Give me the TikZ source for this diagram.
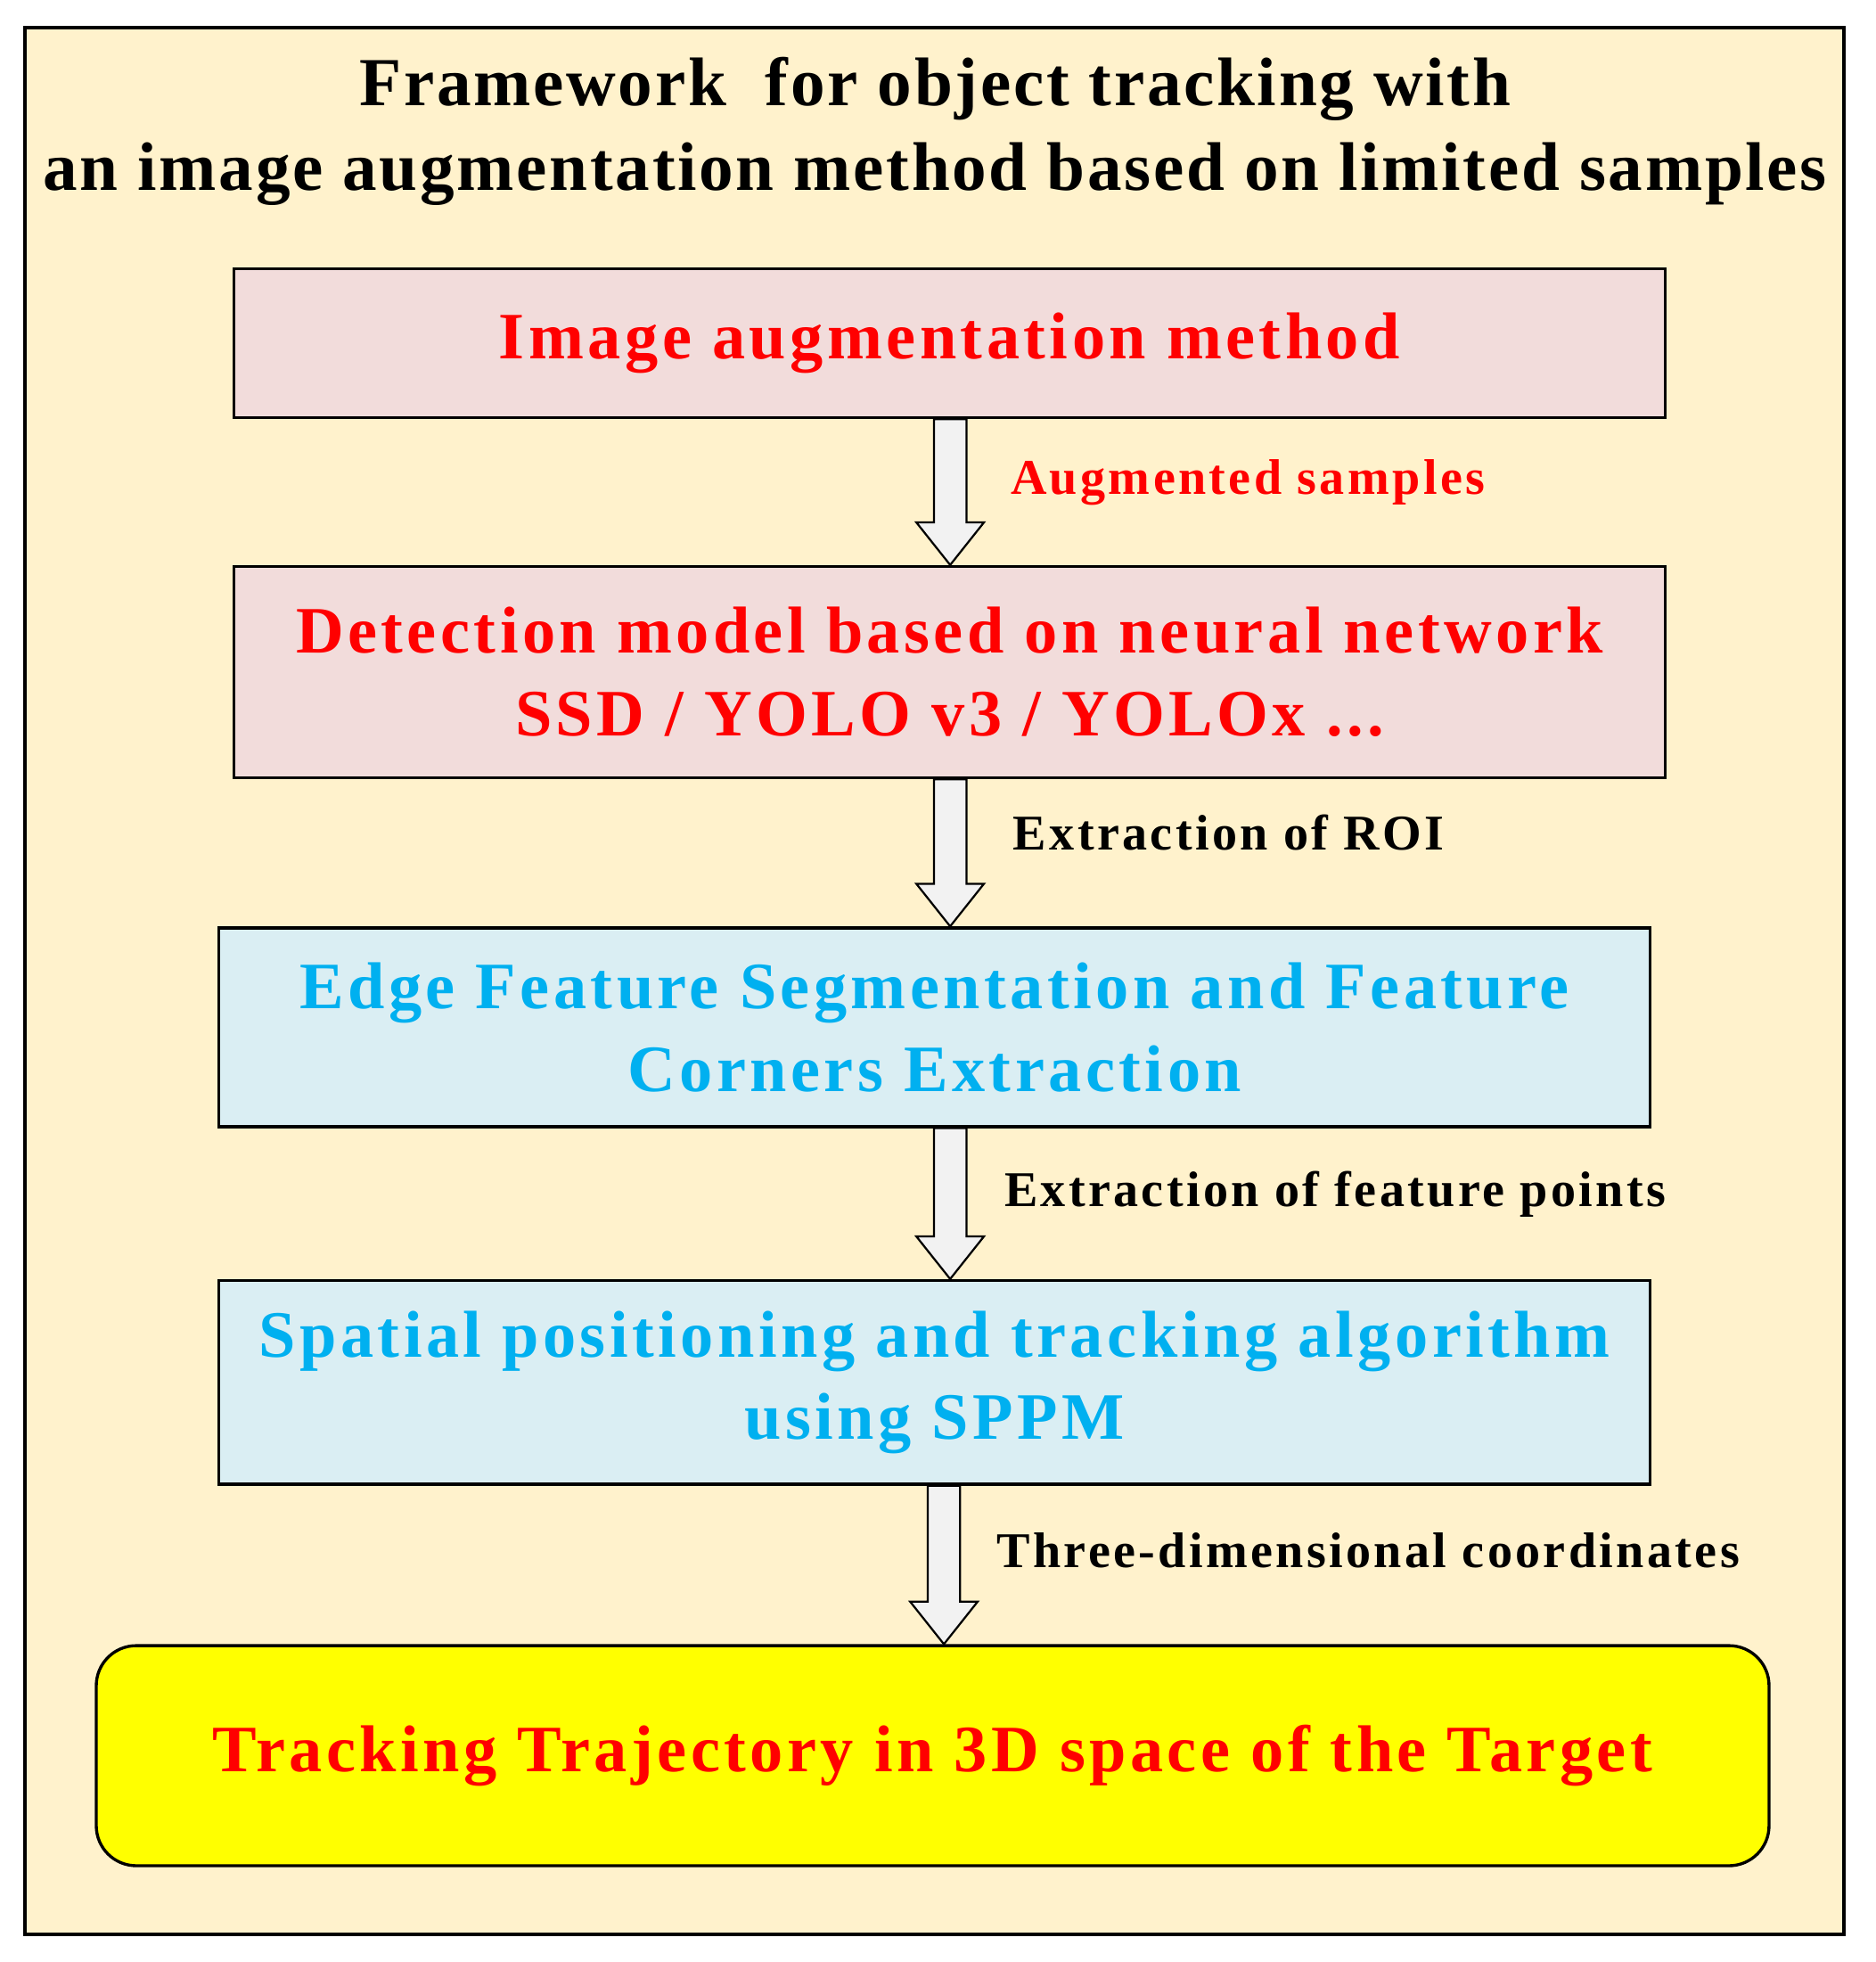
\documentclass[tikz,border=0pt]{standalone}
\usepackage{fontspec}
\setmainfont{Liberation Serif}
\newfontfamily\spacedA[LetterSpace=3.5]{Liberation Serif}
\newfontfamily\spacedB[LetterSpace=6]{Liberation Serif}
\usetikzlibrary{calc}
\definecolor{cream}{HTML}{FFF2CC}
\definecolor{pinkbox}{HTML}{F2DCDB}
\definecolor{bluebox}{HTML}{DAEEF3}
\definecolor{bluetxt}{HTML}{00B0F0}
\definecolor{redtxt}{HTML}{FF0000}
\definecolor{yel}{HTML}{FFFF00}
\definecolor{arrowfill}{HTML}{F2F2F2}
\tikzset{
  boxstyle/.style={draw=black, line width=1.2pt, inner sep=0pt, align=center, font=\spacedB\bfseries\fontsize{26.5}{33}\selectfont},
  lbl/.style={anchor=west, inner sep=0pt, font=\spacedB\bfseries\fontsize{20}{22}\selectfont},
  blk/.style={draw=black, line width=0.8pt, fill=arrowfill},
}
\newcommand{\blockarr}[2]{%
  \draw[blk] ($(#1)+(-13,0)$) -- ($(#1)+(13,0)$) -- ($(#2)+(13,-34)$) -- ($(#2)+(27,-34)$) -- (#2) -- ($(#2)+(-27,-34)$) -- ($(#2)+(-13,-34)$) -- cycle;}
\begin{document}
\begin{tikzpicture}[x=0.5pt,y=-0.5pt]
\useasboundingbox (0,0) rectangle (1500,1569);
\node[draw=black, line width=1.2pt, fill=cream, minimum width=727.5pt, minimum height=762.5pt, inner sep=0pt] (frame) at (747.5,784.5) {};
\node[align=center, inner sep=0pt, font=\spacedA\bfseries\fontsize{27.5}{34}\selectfont] (title) at (748,105) {Framework\ \ for object tracking with\\an image augmentation method based on limited samples};
\node[boxstyle, fill=pinkbox, text=redtxt, minimum width=572.5pt, minimum height=59.5pt] (b1) at (759.5,274.5) {Image augmentation method};
\node[boxstyle, fill=pinkbox, text=redtxt, minimum width=572.5pt, minimum height=84.5pt] (b2) at (759.5,537.5) {Detection model based on neural network\\SSD / YOLO v3 / YOLOx ...};
\node[boxstyle, fill=bluebox, text=bluetxt, minimum width=572.5pt, minimum height=79.5pt] (b3) at (747.5,821.5) {Edge Feature Segmentation and Feature\\Corners Extraction};
\node[boxstyle, fill=bluebox, text=bluetxt, minimum width=572.5pt, minimum height=81.5pt] (b4) at (747.5,1105.5) {Spatial positioning and tracking algorithm\\using SPPM};
\node[boxstyle, fill=yel, text=redtxt, rounded corners=16pt, minimum width=669pt, minimum height=88pt] (b5) at (746,1404) {Tracking Trajectory in 3D space of the Target};
\coordinate (a1s) at (b1.south -| 760,0); \coordinate (a1e) at (b2.north -| 760,0);
\coordinate (a2s) at (b2.south -| 760,0); \coordinate (a2e) at (b3.north -| 760,0);
\coordinate (a3s) at (b3.south -| 760,0); \coordinate (a3e) at (b4.north -| 760,0);
\coordinate (a4s) at (b4.south -| 755,0); \coordinate (a4e) at (b5.north -| 755,0);
\blockarr{a1s}{a1e}
\blockarr{a2s}{a2e}
\blockarr{a3s}{a3e}
\blockarr{a4s}{a4e}
\node[lbl, text=redtxt] (l1) at (808,386) {Augmented samples};
\node[lbl] (l2) at (810,666) {Extraction of ROI};
\node[lbl] (l3) at (803,955) {Extraction of feature points};
\node[lbl] (l4) at (797,1240) {Three-dimensional coordinates};
\end{tikzpicture}
\end{document}
